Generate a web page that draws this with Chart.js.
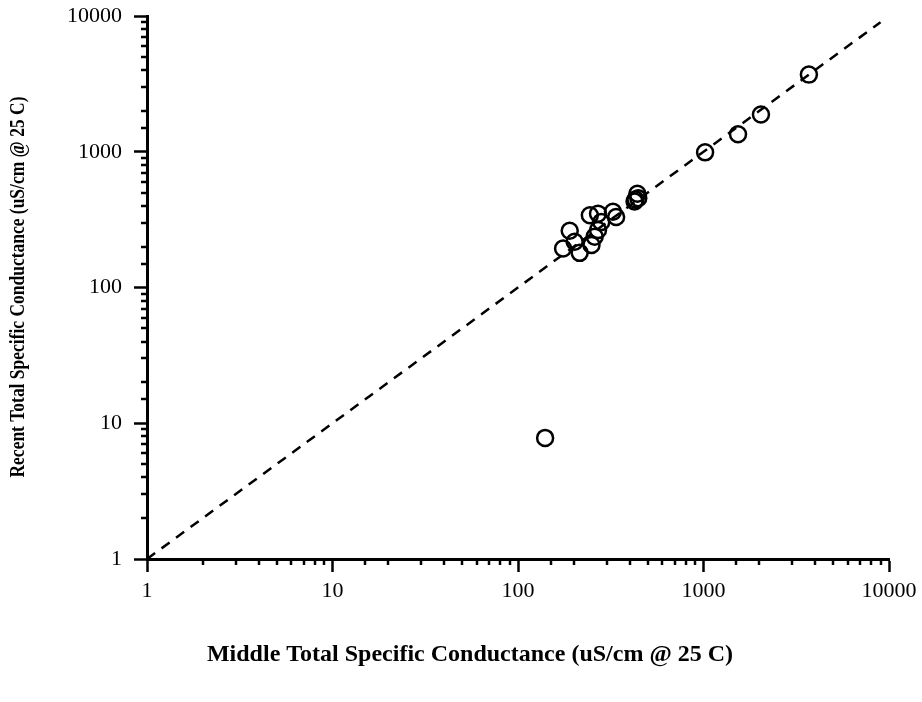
<!DOCTYPE html>
<html>
<head>
<meta charset="utf-8">
<script src="https://cdn.jsdelivr.net/npm/chart.js@4.4.1/dist/chart.umd.min.js"></script>
<style>
html,body{margin:0;padding:0;background:#fff;}
canvas{display:block;}
</style>
</head>
<body>
<canvas id="c" width="922" height="702"></canvas>
<script>
// ---- data ----
const middleTSC = [140, 1020, 1535, 2040, 3700, 190, 175, 202, 215, 244, 270, 325, 338, 281, 270, 259, 249, 440, 425, 445, 430];
const recentTSC = [7.8, 990, 1345, 1880, 3700, 262, 194, 217, 180, 341, 350, 361, 331, 304, 265, 237, 206, 490, 430, 455, 445];
const lineX = [1, 9000];
const lineY = [1, 9000];
const tickLabels = [1, 10, 100, 1000, 10000];
const xTitle = 'Middle Total Specific Conductance (uS/cm @ 25 C)';
const yTitle = 'Recent Total Specific Conductance (uS/cm @ 25 C)';

const FONT = '"Liberation Serif", "Times New Roman", serif';
const isMajor = v => tickLabels.some(t => Math.abs(t - v) < 1e-9 * t);

const decorations = {
  id: 'decorations',
  afterDraw(chart) {
    const ctx = chart.ctx;
    ctx.save();
    ctx.strokeStyle = '#000';
    ctx.lineWidth = 2.5;
    const xs = chart.scales.x, ys = chart.scales.y;
    xs.ticks.forEach(t => {
      if (isMajor(t.value)) return;
      const p = Math.round(xs.getPixelForValue(t.value));
      ctx.beginPath();
      ctx.moveTo(p, xs.top);
      ctx.lineTo(p, xs.top + 6);
      ctx.stroke();
    });
    ys.ticks.forEach(t => {
      if (isMajor(t.value)) return;
      const p = Math.round(ys.getPixelForValue(t.value));
      ctx.beginPath();
      ctx.moveTo(ys.right, p);
      ctx.lineTo(ys.right - 6, p);
      ctx.stroke();
    });
    // axis titles
    ctx.fillStyle = '#000';
    ctx.textAlign = 'center';
    ctx.textBaseline = 'middle';
    ctx.font = 'bold 24px ' + FONT;
    ctx.fillText(xTitle, 470, 655);
    ctx.translate(18, 287);
    ctx.rotate(-Math.PI / 2);
    ctx.font = 'bold 22px ' + FONT;
    ctx.fillText(yTitle, 0, 0, 381);
    ctx.restore();
  }
};

const axisCommon = {
  type: 'logarithmic',
  min: 1,
  max: 10000,
  border: { display: true, color: '#000', width: 3 },
  grid: {
    drawOnChartArea: false,
    drawTicks: true,
    tickLength: 13,
    tickWidth: 2.5,
    tickColor: c => (c.tick && isMajor(c.tick.value)) ? '#000' : 'rgba(0,0,0,0)'
  },
  ticks: {
    autoSkip: false,
    maxRotation: 0,
    color: '#000',
    font: { family: FONT, size: 22 },
    callback: v => isMajor(v) ? String(v) : ''
  }
};

new Chart(document.getElementById('c'), {
  data: {
    datasets: [
      {
        type: 'line',
        data: lineX.map((x, i) => ({ x: x, y: lineY[i] })),
        borderColor: '#000',
        borderWidth: 2.5,
        borderDash: [10, 8],
        pointRadius: 0,
        fill: false,
        order: 2
      },
      {
        type: 'scatter',
        data: middleTSC.map((x, i) => ({ x: x, y: recentTSC[i] })),
        borderColor: '#000',
        backgroundColor: 'rgba(0,0,0,0)',
        borderWidth: 2.5,
        pointRadius: 8,
        pointHoverRadius: 8,
        order: 1
      }
    ]
  },
  options: {
    responsive: false,
    animation: false,
    events: [],
    layout: { padding: { left: 0, right: 33, top: 16, bottom: 0 } },
    plugins: { legend: { display: false }, tooltip: { enabled: false } },
    scales: {
      x: Object.assign({}, axisCommon, {
        position: 'bottom',
        ticks: Object.assign({}, axisCommon.ticks, { padding: 6 }),
        afterFit: s => { s.height = 143; s.paddingLeft = 0; s.paddingRight = 0; }
      }),
      y: Object.assign({}, axisCommon, {
        position: 'left',
        ticks: Object.assign({}, axisCommon.ticks, { padding: 12 }),
        afterFit: s => { s.width = 147; s.paddingTop = 0; s.paddingBottom = 0; }
      })
    }
  },
  plugins: [decorations]
});
</script>
</body>
</html>
